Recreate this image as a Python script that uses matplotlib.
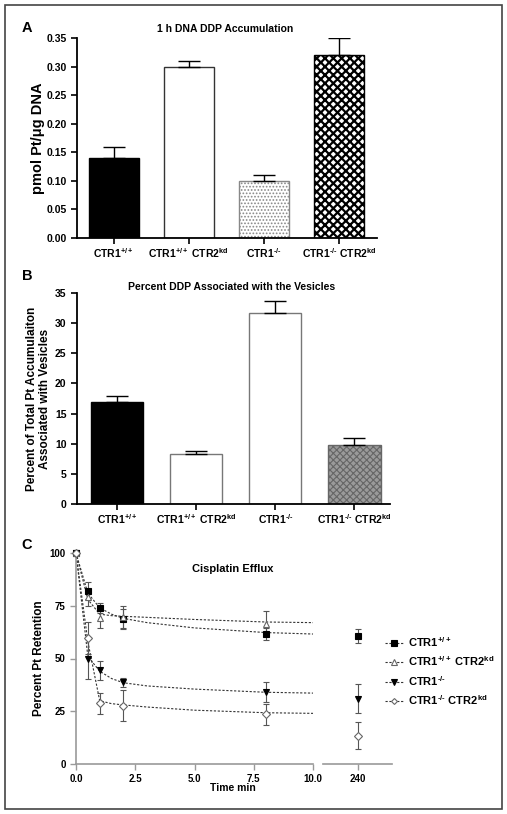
import matplotlib
matplotlib.use("Agg")
import matplotlib.pyplot as plt
from matplotlib.patches import Rectangle
from matplotlib.lines import Line2D
import numpy as np

plt.rcParams['font.family'] = ['Liberation Sans', 'DejaVu Sans']
plt.rcParams['font.weight'] = 'bold'
plt.rcParams['axes.labelweight'] = 'bold'
plt.rcParams['mathtext.fontset'] = 'custom'
plt.rcParams['mathtext.rm'] = 'Liberation Sans:bold'
plt.rcParams['mathtext.it'] = 'Liberation Sans:bold'
plt.rcParams['mathtext.bf'] = 'Liberation Sans:bold'
plt.rcParams['hatch.linewidth'] = 0.8

# ---- data ----
groups = [r'CTR1$^{+/+}$', r'CTR1$^{+/+}$ CTR2$^{kd}$', r'CTR1$^{\text{-/-}}$', r'CTR1$^{\text{-/-}}$ CTR2$^{kd}$']

dna_acc = [0.14, 0.30, 0.10, 0.32]
dna_err = [0.02, 0.01, 0.01, 0.03]

ves_pct = [17.0, 8.3, 31.7, 9.8]
ves_err = [0.9, 0.5, 1.9, 1.1]

t_pts = [0, 0.5, 1, 2, 8]
ret_wt = [100, 82.1, 73.9, 68.8, 61.6]
ret_wt_err = [0, 4.0, 2.5, 4.5, 3.0]
ret_wt_kd = [100, 79.0, 69.3, 69.5, 66.5]
ret_wt_kd_err = [0, 4.0, 5.0, 5.5, 6.0]
ret_ko = [100, 50.0, 44.5, 38.7, 34.0]
ret_ko_err = [0, 9.5, 4.5, 2.0, 4.7]
ret_ko_kd = [100, 59.7, 28.7, 27.7, 23.6]
ret_ko_kd_err = [0, 7.5, 5.0, 7.5, 5.0]

# values at 240 min
late_wt, late_wt_err = 60.7, 3.5
late_ko, late_ko_err = 31.0, 7.0
late_ko_kd, late_ko_kd_err = 13.5, 6.3

# fitted curves
t_fit = [0, 0.5, 1, 1.5, 2, 3, 5, 8, 10]
fit_wt = [100, 81, 74, 71, 69, 67, 64.5, 62.3, 61.6]
fit_wt_kd = [100, 78, 71, 70.3, 70, 69.5, 68.5, 67.3, 67]
fit_ko = [100, 51, 44, 40.5, 38.5, 37, 35.5, 34, 33.6]
fit_ko_kd = [100, 58, 30, 28.6, 28, 27, 25.5, 24.3, 24]

W, H = 507, 814
fig = plt.figure(figsize=(W / 100, H / 100), dpi=100)
fig.add_artist(Rectangle((5 / W, 5 / H), 497 / W, 804 / H, transform=fig.transFigure,
                         fill=False, ec='#444444', lw=1.2))

def px_axes(l, t, r, b):
    return fig.add_axes([l / W, 1 - b / H, (r - l) / W, (b - t) / H])

def style_bar_axes(ax):
    for s in ['top', 'right']:
        ax.spines[s].set_visible(False)
    for s in ['left', 'bottom']:
        ax.spines[s].set_linewidth(1.3)
    ax.tick_params(labelsize=7.5, width=1.2, length=4)
    ax.tick_params(axis='x', pad=2)

x = np.arange(4)

# ---- panel A ----
axA = px_axes(77, 38, 377, 238)
style_bar_axes(axA)
fills = ['black', 'white', 'white', 'white']
edges = ['black', '#333333', '#888888', 'black']
hatches = [None, None, '.....', 'xxxx']
for i in range(4):
    bars = axA.bar(x[i], dna_acc[i], width=0.67, color=fills[i], edgecolor=edges[i],
                   hatch=hatches[i], linewidth=1.0)
    if i == 3:
        try:
            bars[0].set_hatch_linewidth(1.6)
        except AttributeError:
            pass
axA.errorbar(x, dna_acc, yerr=[np.zeros(4), dna_err], fmt='none', ecolor='black',
             elinewidth=1.0, capsize=8, capthick=1.0)
axA.set_xlim(-0.49, 3.51)
axA.set_ylim(0, 0.35)
axA.set_yticks(np.arange(0, 0.351, 0.05))
axA.set_yticklabels(['%.2f' % v for v in np.arange(0, 0.351, 0.05)])
axA.set_xticks(x)
axA.set_xticklabels(groups)
axA.set_ylabel('pmol Pt/μg DNA', fontsize=10.5, labelpad=1)
fig.text(225 / W, 1 - 29 / H, '1 h DNA DDP Accumulation', ha='center', va='center', fontsize=7.5)
fig.text(27 / W, 1 - 28 / H, 'A', ha='center', va='center', fontsize=10.5)

# ---- panel B ----
axB = px_axes(77, 293, 390, 504)
style_bar_axes(axB)
fillsB = ['black', 'white', 'white', '#9a9a9a']
edgesB = ['black', '#777777', '#777777', '#666666']
hatchesB = [None, None, None, 'xxxxx']
for i in range(4):
    axB.bar(x[i], ves_pct[i], width=0.66, color=fillsB[i], edgecolor=edgesB[i],
            hatch=hatchesB[i], linewidth=1.0)
axB.errorbar(x, ves_pct, yerr=[np.zeros(4), ves_err], fmt='none', ecolor='black',
             elinewidth=1.0, capsize=8, capthick=1.0)
axB.set_xlim(-0.51, 3.45)
axB.set_ylim(0, 35)
axB.set_yticks(range(0, 36, 5))
axB.set_xticks(x)
axB.set_xticklabels(groups)
axB.set_ylabel('Percent of Total Pt Accumulaiton\nAssociated with Vesicles', fontsize=8.5,
               labelpad=3, linespacing=1.1)
fig.text(232 / W, 1 - 287 / H, 'Percent DDP Associated with the Vesicles', ha='center',
         va='center', fontsize=7.5)
fig.text(27 / W, 1 - 276 / H, 'B', ha='center', va='center', fontsize=10.5)

# ---- panel C ----
axC = px_axes(76, 553, 313, 764)
axC2 = px_axes(323, 553, 392, 764)
gray = '#999999'
for ax in (axC, axC2):
    for s in ['top', 'right']:
        ax.spines[s].set_visible(False)
    for s in ['left', 'bottom']:
        ax.spines[s].set_color(gray)
        ax.spines[s].set_linewidth(1.2)
    ax.tick_params(labelsize=7, width=1.0, length=4, color=gray)
    ax.set_ylim(0, 100)
axC2.spines['left'].set_visible(False)
axC2.set_yticks([])
axC2.set_xlim(230, 250)
axC2.set_xticks([240])

series = [
    (ret_wt, ret_wt_err, fit_wt, 's', 'black', r'CTR1$^{+/+}$'),
    (ret_wt_kd, ret_wt_kd_err, fit_wt_kd, '^', 'white', r'CTR1$^{+/+}$ CTR2$^{kd}$'),
    (ret_ko, ret_ko_err, fit_ko, 'v', 'black', r'CTR1$^{\text{-/-}}$'),
    (ret_ko_kd, ret_ko_kd_err, fit_ko_kd, 'D', 'white', r'CTR1$^{\text{-/-}}$ CTR2$^{kd}$'),
]
handles = []
for vals, errs, fit, mk, fc, lab in series:
    axC.plot(t_fit, fit, ls=(0, (2, 1.5)), color='#333333', lw=0.8, clip_on=False)
    axC.errorbar(t_pts[1:], vals[1:], yerr=errs[1:], fmt='none', ecolor='#555555',
                 elinewidth=0.8, capsize=2.5, capthick=0.8, clip_on=False)
    ms = 5 if mk != 'D' else 4
    mec = 'black' if fc == 'black' else '#666666'
    axC.plot(t_pts, vals, ls='none', marker=mk, ms=ms, mfc=fc, mec=mec, mew=0.8,
             clip_on=False, zorder=5)
    handles.append(Line2D([], [], ls=(0, (2, 1.5)), color='#333333', lw=0.8, marker=mk,
                          ms=ms - 1, mfc=fc, mec=mec, mew=0.8, label=lab))

late = [(late_wt, late_wt_err, 's', 'black'), (late_ko, late_ko_err, 'v', 'black'),
        (late_ko_kd, late_ko_kd_err, 'D', 'white')]
for v, e, mk, fc in late:
    axC2.errorbar([240], [v], yerr=[e], fmt='none', ecolor='#555555', elinewidth=0.8,
                  capsize=2.5, capthick=0.8)
    mec = 'black' if fc == 'black' else '#666666'
    axC2.plot([240], [v], ls='none', marker=mk, ms=5 if mk != 'D' else 4, mfc=fc,
              mec=mec, mew=0.8, zorder=5)

axC.set_xlim(0, 10)
axC.set_xticks([0, 2.5, 5, 7.5, 10])
axC.set_xticklabels(['0.0', '2.5', '5.0', '7.5', '10.0'])
axC.set_yticks([0, 25, 50, 75, 100])
axC.set_ylabel('Percent Pt Retention', fontsize=8.5, labelpad=3)
fig.text(233 / W, 1 - 788 / H, 'Time min', ha='center', va='center', fontsize=7.5)
fig.text(233 / W, 1 - 569 / H, 'Cisplatin Efflux', ha='center', va='center', fontsize=8)
fig.text(27 / W, 1 - 545 / H, 'C', ha='center', va='center', fontsize=10.5)

fig.legend(handles=handles, loc='center left', bbox_to_anchor=(381 / W, 1 - 671 / H),
           frameon=False, fontsize=8, handlelength=1.6, handletextpad=0.4,
           labelspacing=0.5, borderaxespad=0)

fig.savefig('out.png', dpi=100)
